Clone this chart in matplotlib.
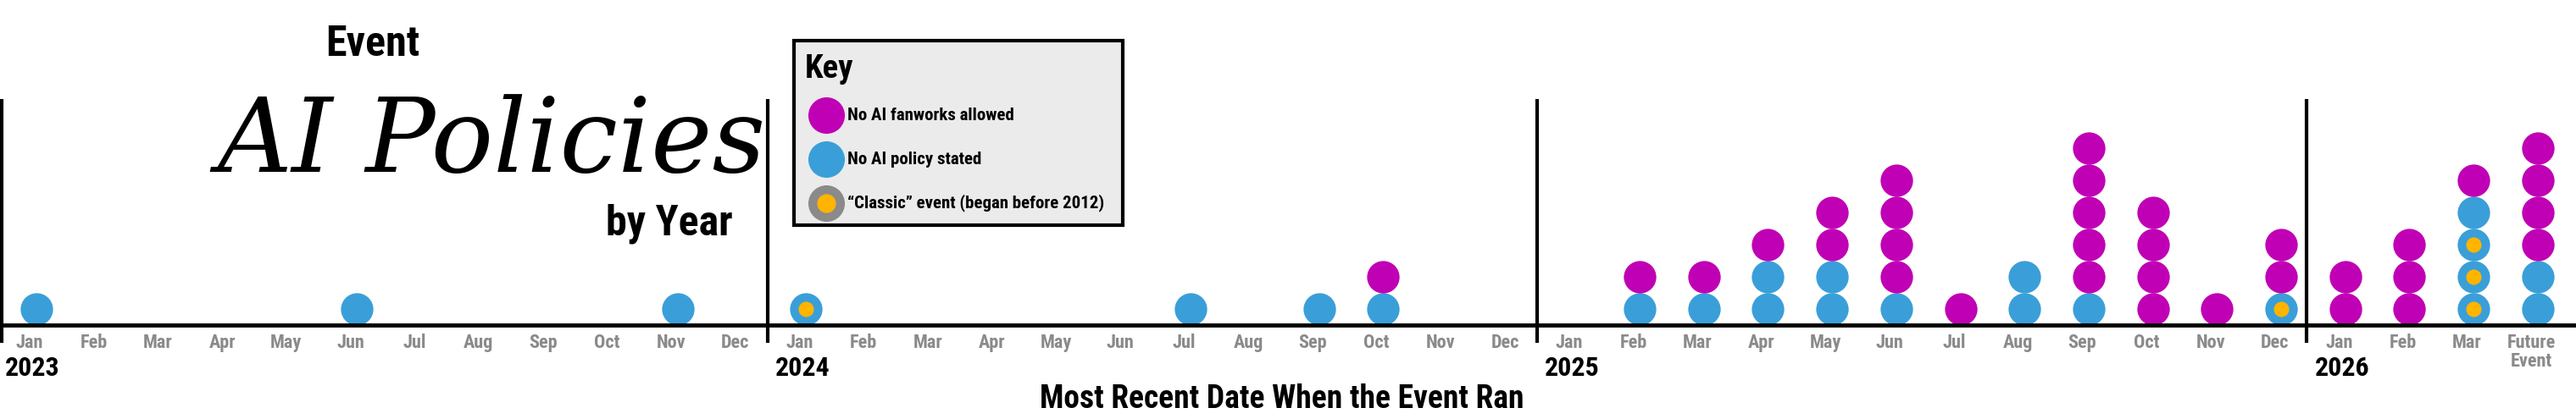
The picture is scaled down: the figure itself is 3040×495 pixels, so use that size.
import matplotlib
matplotlib.use("Agg")
import matplotlib.pyplot as plt
import matplotlib.font_manager as fm

names = {f.name for f in fm.fontManager.ttflist}
COND = 'DejaVu Sans'
for cand in ['Roboto Condensed', 'Liberation Sans Narrow', 'Open Sans Condensed', 'Noto Sans Condensed']:
    if cand in names:
        COND = cand
        break

years = ["2023", "2024", "2025", "2026"]
month_labels = ["Jan", "Feb", "Mar", "Apr", "May", "Jun", "Jul", "Aug", "Sep", "Oct", "Nov", "Dec"]
labels_2026 = ["Jan", "Feb", "Mar", "Future\nEvent"]

# slot = 12*year_idx + month_idx
slots =   [0, 5, 10, 12, 18, 20, 21, 25, 26, 27, 28, 29, 30, 31, 32, 33, 34, 35, 36, 37, 38, 39]
classic = [0, 0, 0,  1,  0,  0,  0,  0,  0,  0,  0,  0,  0,  0,  0,  0,  0,  1,  0,  0,  3,  0]
blue =    [1, 1, 1,  0,  1,  1,  1,  1,  1,  2,  2,  1,  0,  2,  1,  0,  0,  0,  0,  0,  1,  2]
magenta = [0, 0, 0,  0,  0,  0,  1,  1,  1,  1,  2,  4,  1,  0,  5,  4,  1,  2,  2,  3,  1,  4]

BLUE = "#3a9fd8"; MAG = "#c000b4"; ORANGE = "#ffb400"; GREY = "#8a8a8a"

W, H = 3040, 495
fig = plt.figure(figsize=(W/100, H/100), dpi=100)
ax = fig.add_axes([0, 0, 1, 1])
step, x0, axis_y, d = 75.7, 35, 111, 38
ax.set_xlim(-x0/step, (W-x0)/step)
ax.set_ylim(-axis_y/d, (H-axis_y)/d)
ax.axis('off')

def px(x, y):
    return x/W, 1 - y/H

S = 760; SI = 170; off = 0.1
for k, c, b, m in zip(slots, classic, blue, magenta):
    i = 0
    for _ in range(c):
        ax.scatter(k+off, i+0.5, s=S, color=BLUE, lw=0, zorder=3)
        ax.scatter(k+off, i+0.5, s=SI, color=ORANGE, lw=0, zorder=4)
        i += 1
    for _ in range(b):
        ax.scatter(k+off, i+0.5, s=S, color=BLUE, lw=0, zorder=3); i += 1
    for _ in range(m):
        ax.scatter(k+off, i+0.5, s=S, color=MAG, lw=0, zorder=3); i += 1

ax.axhline(0, color="black", lw=3.5, zorder=5)
for xd in [-0.43, 11.5, 23.5, 35.5]:
    ax.plot([xd, xd], [-21/d, 267/d], color="black", lw=3, zorder=5, solid_capstyle='butt')

for yi, yr in enumerate(years):
    labs = labels_2026 if yr == "2026" else month_labels
    for mi, lab in enumerate(labs):
        k = 12*yi + mi
        ax.text(k, -10/d, lab, ha='center', va='top', fontsize=16, color=GREY,
                family=COND, fontweight='bold', stretch='condensed', linespacing=1.0)
    ax.text(12*yi - 0.38, -36/d, yr, ha='left', va='top', fontsize=23,
            family=COND, fontweight='bold', stretch='condensed')

fig.text(*px(1513, 472), "Most Recent Date When the Event Ran", ha='center', va='center',
         fontsize=27, family=COND, fontweight='bold', stretch='condensed')

fig.text(*px(440, 52), "Event", ha='center', va='center', fontsize=36, family=COND,
         fontweight='bold', stretch='condensed')
fig.text(*px(580, 170), "AI Policies", ha='center', va='center', fontsize=88,
         family='DejaVu Serif', style='italic')
fig.text(*px(790, 264), "by Year", ha='center', va='center', fontsize=36, family=COND,
         fontweight='bold', stretch='condensed')

bx0, by0, bx1, by1 = 937, 48, 1325, 266
fig.patches.append(plt.Rectangle(px(bx0, by1), (bx1-bx0)/W, (by1-by0)/H, transform=fig.transFigure,
                                 facecolor="#ebebeb", edgecolor="black", lw=3, zorder=1))
fig.text(*px(950, 82), "Key", ha='left', va='center', fontsize=28, family=COND,
         fontweight='bold', stretch='condensed')
entries = [("No AI fanworks allowed", MAG, None), ("No AI policy stated", BLUE, None),
           ("\u201cClassic\u201d event (began before 2012)", GREY, ORANGE)]
for j, (txt, col, inner) in enumerate(entries):
    yy = 136 + 52*j
    fig.add_artist(plt.Line2D([975/W], [1-yy/H], marker='o', ms=30, color=col, mec=col, lw=0))
    if inner:
        fig.add_artist(plt.Line2D([975/W], [1-yy/H], marker='o', ms=15, color=inner, mec=inner, lw=0))
    fig.text(*px(1000, yy), txt, ha='left', va='center', fontsize=15, family=COND,
             fontweight='bold', stretch='condensed')

fig.savefig("out.png", dpi=100)
